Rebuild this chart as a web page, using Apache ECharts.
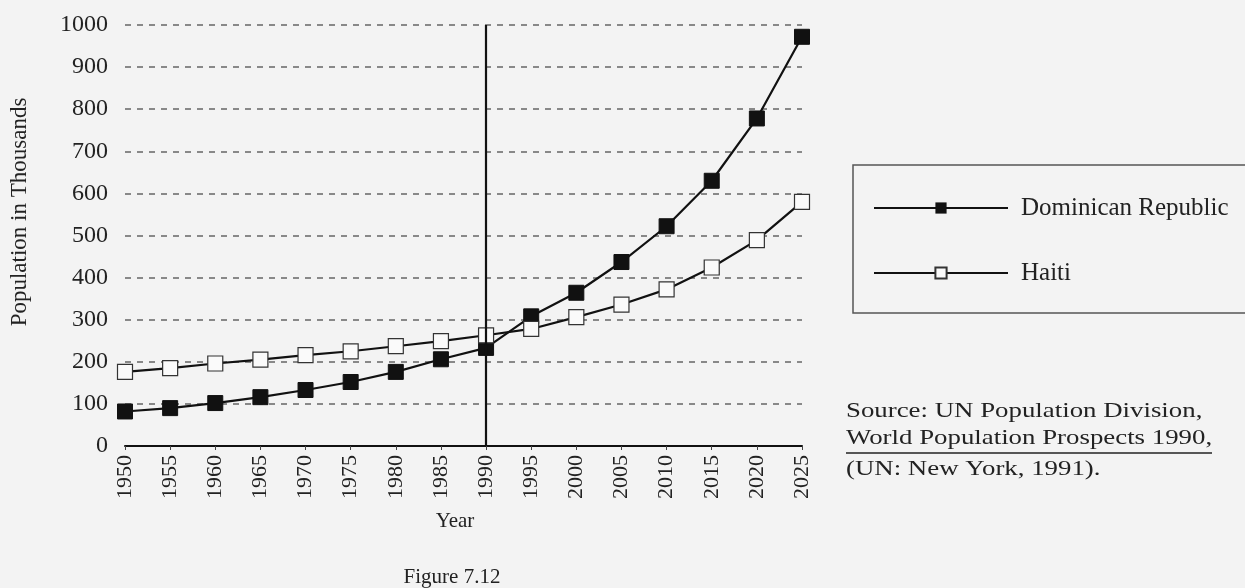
<!DOCTYPE html>
<html>
<head>
<meta charset="utf-8">
<script src="https://cdn.jsdelivr.net/npm/echarts@6/dist/echarts.min.js"></script>
<style>
  html, body { margin: 0; padding: 0; background: #f3f3f3; }
  #chart { width: 1245px; height: 588px; }
</style>
</head>
<body>
<div id="chart"></div>
<script>
// Projected population, in thousands, 1950–2025
const years = ['1950', '1955', '1960', '1965', '1970', '1975', '1980', '1985',
               '1990', '1995', '2000', '2005', '2010', '2015', '2020', '2025'];
const dominicanRepublic = [82, 90, 102, 116, 133, 152, 176, 206,
                           233, 308, 364, 437, 522, 630, 778, 972];
const haiti = [176, 185, 196, 205, 216, 225, 237, 249,
               263, 278, 306, 336, 372, 424, 489, 580];
const yTicks = { min: 0, max: 1000, step: 100 };
const dividerYear = '1990';

const serif = '"Liberation Serif", "Times New Roman", serif';
const ink = '#111';

const chart = echarts.init(document.getElementById('chart'), null, { renderer: 'canvas' });

// Source note lines, widened like the typeset original
function noteLine(text, y) {
  return {
    type: 'text',
    x: 846, y: y,
    scaleX: 1.22,
    style: { text: text, font: '22px ' + serif, fill: '#222', align: 'left', verticalAlign: 'middle' }
  };
}

chart.setOption({
  backgroundColor: '#f3f3f3',
  animation: false,
  grid: { left: 125, right: 443, top: 25, bottom: 142 },
  legend: {
    orient: 'vertical',
    left: 868,
    top: 189,
    itemWidth: 134,
    itemHeight: 14,
    itemGap: 37,
    textStyle: { fontFamily: serif, fontSize: 25, color: '#222', lineHeight: 28, padding: [0, 0, 0, 8] },
    data: ['Dominican Republic', 'Haiti']
  },
  xAxis: {
    type: 'category',
    data: years,
    boundaryGap: false,
    axisLine: { lineStyle: { color: ink, width: 2 } },
    axisTick: { show: true, length: 4, lineStyle: { color: '#444' } },
    axisLabel: { rotate: 90, margin: 9, fontFamily: serif, fontSize: 22, color: '#222' },
    splitLine: { show: false }
  },
  yAxis: {
    type: 'value',
    min: yTicks.min,
    max: yTicks.max,
    interval: yTicks.step,
    axisLine: { show: false },
    axisTick: { show: false },
    axisLabel: {
      margin: 17, fontFamily: serif, fontSize: 24, color: '#222',
      formatter: function (v) { return String(v); }
    },
    splitLine: { show: true, lineStyle: { color: '#666', width: 1.5, type: [6, 6] } }
  },
  series: [
    {
      name: 'Dominican Republic',
      type: 'line',
      data: dominicanRepublic,
      symbol: 'rect',
      symbolSize: 15,
      lineStyle: { color: ink, width: 2.2 },
      itemStyle: { color: ink, borderColor: ink },
      z: 3,
      markLine: {
        silent: true,
        symbol: 'none',
        label: { show: false },
        lineStyle: { color: ink, width: 2.2, type: 'solid' },
        data: [{ xAxis: dividerYear }]
      }
    },
    {
      name: 'Haiti',
      type: 'line',
      data: haiti,
      symbol: 'rect',
      symbolSize: 15,
      lineStyle: { color: ink, width: 2.2 },
      itemStyle: { color: '#fafafa', borderColor: '#333', borderWidth: 1.2 },
      z: 4
    }
  ],
  graphic: [
    {
      type: 'text',
      x: 20, y: 212,
      rotation: Math.PI / 2,
      style: {
        text: 'Population in Thousands',
        font: '23px ' + serif,
        fill: '#222',
        align: 'center',
        verticalAlign: 'middle'
      }
    },
    {
      type: 'text',
      x: 455, y: 521,
      style: { text: 'Year', font: '21px ' + serif, fill: '#222', align: 'center', verticalAlign: 'middle' }
    },
    {
      type: 'text',
      x: 452, y: 577,
      style: { text: 'Figure 7.12', font: '21px ' + serif, fill: '#222', align: 'center', verticalAlign: 'middle' }
    },
    {
      type: 'rect',
      shape: { x: 853, y: 165, width: 420, height: 148 },
      style: { fill: 'none', stroke: '#555', lineWidth: 1.5 },
      z: -1
    },
    noteLine('Source: UN Population Division,', 411),
    noteLine('World Population Prospects 1990,', 438),
    {
      type: 'line',
      shape: { x1: 846, y1: 453, x2: 1212, y2: 453 },
      style: { stroke: '#222', lineWidth: 1.5 }
    },
    noteLine('(UN: New York, 1991).', 469)
  ]
});
</script>
</body>
</html>
